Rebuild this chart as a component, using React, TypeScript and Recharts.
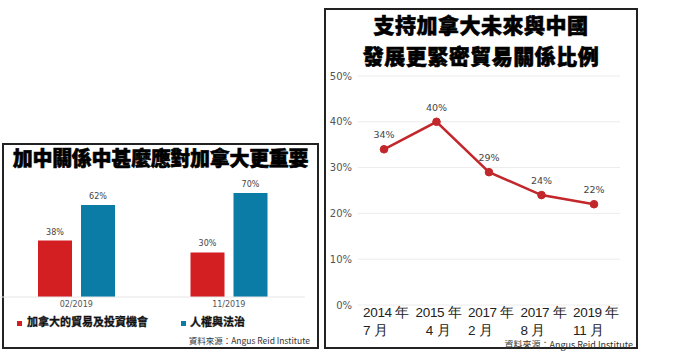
import React from "react";
import {
  BarChart,
  Bar,
  LineChart,
  Line,
  XAxis,
  YAxis,
  CartesianGrid,
  LabelList,
  Legend,
} from "recharts";

const surveyDates = ["02/2019", "11/2019"];
const tradeValues = [38, 30];
const rightsValues = [62, 70];

const pollLabels = ["2014 年|7 月", "2015 年|\u00a0\u00a0\u00a04 月", "2017 年|2 月", "2017 年|8 月", "2019 年|11 月"];
const supportValues = [34, 40, 29, 24, 22];
const percentTicks = [0, 10, 20, 30, 40, 50];

const barData = surveyDates.map((d, i) => ({ date: d, trade: tradeValues[i], rights: rightsValues[i] }));
const lineData = pollLabels.map((d, i) => ({ when: d, value: supportValues[i] }));

const CJK = "'Noto Sans CJK TC', 'Noto Sans', sans-serif";
const RED = "#d41f22";
const BLUE = "#0b7ca6";
const LINE_RED = "#c1272b";

const pct = (v: any) => `${v}%`;

const TwoLineTick = (props: any) => {
  const { x, y, payload } = props;
  const [a, b] = String(payload.value).split("|");
  return (
    <text
      x={x - 21}
      y={y}
      fill="#222"
      fontSize={13.5}
      letterSpacing={-0.3}
      fontFamily="'Liberation Sans', Arial, sans-serif"
      textAnchor="start"
    >
      <tspan x={x - 21} dy={4}>{a}</tspan>
      <tspan x={x - 21} dy={17.5}>{b}</tspan>
    </text>
  );
};

const BarLegend = () => (
  <div style={{ position: "relative", height: 16, fontFamily: CJK, fontWeight: 700, fontSize: 11, color: "#111", WebkitTextStroke: "0.3px #111" }}>
    <span style={{ position: "absolute", left: 17, top: 0 }}>
      <span style={{ display: "inline-block", width: 5, height: 5, background: RED, marginRight: 5, verticalAlign: "middle" }} />
      加拿大的貿易及投資機會
    </span>
    <span style={{ position: "absolute", left: 181, top: 0 }}>
      <span style={{ display: "inline-block", width: 5, height: 5, background: BLUE, marginRight: 4, verticalAlign: "middle" }} />
      人權與法治
    </span>
  </div>
);

const boxStyle: React.CSSProperties = {
  position: "absolute",
  border: "2px solid #222",
  boxSizing: "border-box",
  background: "#fff",
};

const sourceStyle: React.CSSProperties = {
  position: "absolute",
  fontFamily: CJK,
  color: "#333",
  whiteSpace: "nowrap",
};

const titleStyle: React.CSSProperties = {
  position: "absolute",
  textAlign: "center",
  fontFamily: CJK,
  fontWeight: 900,
  color: "#000",
  WebkitTextStroke: "0.6px #000",
  letterSpacing: -0.3,
  whiteSpace: "nowrap",
};

export default function App() {
  return (
    <div style={{ position: "absolute", left: 0, top: 0, width: 700, height: 361, background: "#fff", overflow: "hidden" }}>
      {/* left panel */}
      <div style={{ ...boxStyle, left: 2, top: 143, width: 317, height: 206 }} />
      <div style={{ ...titleStyle, left: 4, top: 145, width: 313, fontSize: 20, lineHeight: "26px" }}>
        加中關係中甚麼應對加拿大更重要
      </div>
      <div style={{ position: "absolute", left: 0, top: 170 }}>
        <BarChart
          width={305}
          height={163}
          data={barData}
          margin={{ top: 23, right: 0, bottom: 0, left: 0 }}
          barSize={34}
          barGap={9}
        >
          <XAxis
            dataKey="date"
            axisLine={{ stroke: "#e6e6e6" }}
            tickLine={false}
            height={20}
            tick={{ fontSize: 8, fill: "#555", fontFamily: "'DejaVu Sans', sans-serif", dy: -4 }}
          />
          <YAxis hide domain={[0, 70]} />
          <Legend content={BarLegend} wrapperStyle={{ top: 143, left: 0, width: 305 }} />
          <Bar dataKey="trade" fill={RED} isAnimationActive={false}>
            <LabelList dataKey="trade" position="top" formatter={pct} offset={6} style={{ fontSize: 8, fill: "#444", fontFamily: "'DejaVu Sans', sans-serif" }} />
          </Bar>
          <Bar dataKey="rights" fill={BLUE} isAnimationActive={false}>
            <LabelList dataKey="rights" position="top" formatter={pct} offset={6} style={{ fontSize: 8, fill: "#444", fontFamily: "'DejaVu Sans', sans-serif" }} />
          </Bar>
        </BarChart>
      </div>
      <div style={{ ...sourceStyle, right: 700 - 310, top: 334, fontSize: 8.5 }}>資料來源：Angus Reid Institute</div>

      {/* right panel */}
      <div style={{ ...boxStyle, left: 324, top: 8, width: 314, height: 341 }} />
      <div style={{ ...titleStyle, left: 326, top: 13, width: 310, fontSize: 21, lineHeight: "22px", letterSpacing: 0.5 }}>
        支持加拿大未來與中國
      </div>
      <div style={{ ...titleStyle, left: 326, top: 44, width: 310, fontSize: 21, lineHeight: "22px", letterSpacing: 0.5 }}>
        發展更緊密貿易關係比例
      </div>
      <div style={{ position: "absolute", left: 325, top: 60 }}>
        <LineChart
          width={310}
          height={286}
          data={lineData}
          margin={{ top: 16, right: 15, bottom: 0, left: 0 }}
        >
          <CartesianGrid vertical={false} stroke="#ececec" />
          <XAxis
            dataKey="when"
            axisLine={false}
            tickLine={false}
            height={41}
            interval={0}
            padding={{ left: 26, right: 26 }}
            tick={<TwoLineTick />}
          />
          <YAxis
            domain={[0, 50]}
            ticks={percentTicks}
            tickFormatter={pct}
            axisLine={false}
            tickLine={false}
            width={33}
            tickMargin={0}
            tick={{ fontSize: 10, fill: "#555", fontFamily: "'DejaVu Sans', sans-serif" }}
          />
          <Line
            type="linear"
            dataKey="value"
            stroke={LINE_RED}
            strokeWidth={2.5}
            dot={{ r: 3.8, fill: LINE_RED, stroke: LINE_RED, strokeWidth: 1 }}
            activeDot={false}
            isAnimationActive={false}
          >
            <LabelList dataKey="value" position="top" formatter={pct} offset={11} style={{ fontSize: 9.5, fill: "#444", fontFamily: "'DejaVu Sans', sans-serif" }} />
          </Line>
        </LineChart>
      </div>
      <div style={{ ...sourceStyle, right: 700 - 633, top: 338, fontSize: 9 }}>資料來源：Angus Reid Institute</div>
    </div>
  );
}
